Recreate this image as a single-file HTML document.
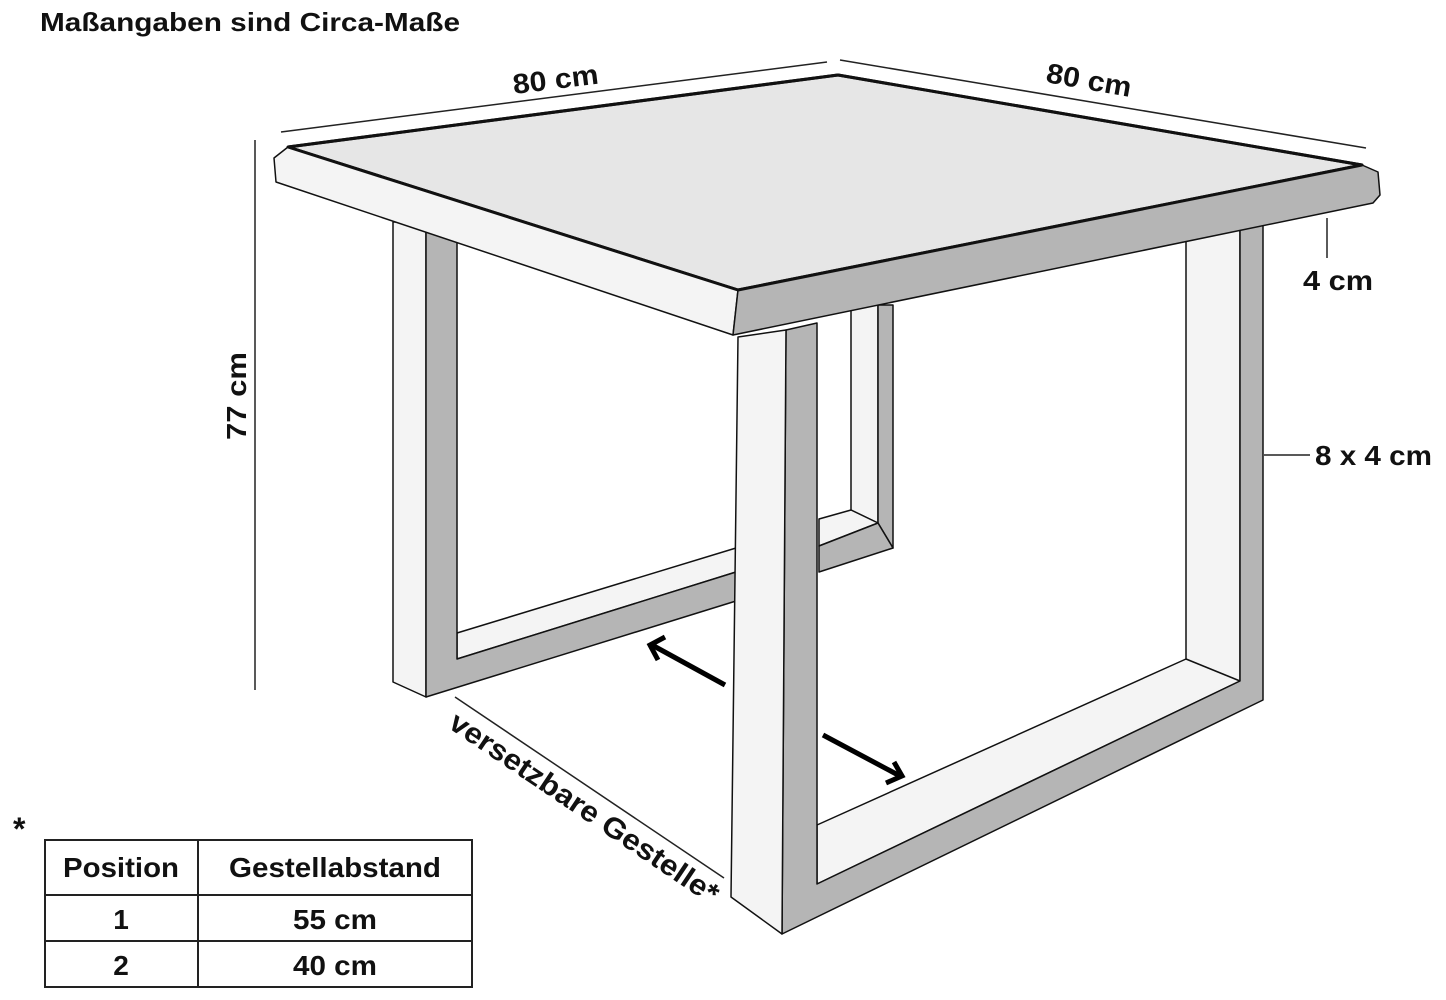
<!DOCTYPE html>
<html><head><meta charset="utf-8"><style>
html,body{margin:0;padding:0;background:#fff;}
svg{display:block;}
text{font-family:"Liberation Sans",sans-serif;font-weight:bold;fill:#111;}
</style></head><body>
<svg width="1446" height="1000" viewBox="0 0 1446 1000" xmlns="http://www.w3.org/2000/svg">
<rect width="1446" height="1000" fill="#fff"/>
<text x="40" y="31" font-size="26" textLength="420" lengthAdjust="spacingAndGlyphs">Maßangaben sind Circa-Maße</text>

<g stroke="#111" stroke-width="1.5" stroke-linejoin="round">
<polygon points="851,305 878,305 878,523 851,510" fill="#f4f4f4"/>
<polygon points="878,305 893,305 893,548 878,523" fill="#b5b5b5"/>
<polygon points="819,519 851,510 878,523 819,546" fill="#f4f4f4"/>
<polygon points="819,546 878,523 893,548 819,572" fill="#b5b5b5"/>
<polygon points="393,222 426,222 426,697 393,682" fill="#f4f4f4"/>
<polygon points="457,633 736,548 736,572 457,659" fill="#f4f4f4"/>
<polygon points="426,222 457,222 457,659 736,572 736,601 426,697" fill="#b5b5b5"/>

<polygon points="1186,225 1240,225 1240,681 817,884 817,825 1186,659" fill="#f4f4f4"/>
<polygon points="786,330 817,323 817,884 1240,681 1240,225 1263,225 1263,700 782,934" fill="#b5b5b5"/>
<polygon points="738,337 786,330 782,934 731,897" fill="#f4f4f4"/>
<line x1="1186" y1="659" x2="1240" y2="681"/>

<polygon points="288,147 838,75 1362,165 738,290" fill="#e6e6e6" stroke-width="3"/>
<polygon points="288,147 738,290 733,335 276,182 274,158" fill="#f4f4f4"/>
<polygon points="738,290 1362,165 1378,172 1380,195 1373,203 733,335" fill="#b5b5b5"/>
<polyline points="288,147 838,75 1362,165 738,290 288,147" fill="none" stroke-width="3"/>
</g>

<g stroke="#222" stroke-width="1.5">
<line x1="281" y1="132" x2="827" y2="62"/>
<line x1="840" y1="60" x2="1366" y2="148"/>
<line x1="1327" y1="218" x2="1327" y2="258"/>
<line x1="1264" y1="455" x2="1310" y2="455"/>
<line x1="255" y1="140" x2="255" y2="690"/>
<line x1="455" y1="697" x2="724" y2="878"/>
</g>
<g stroke="#000" stroke-width="5" fill="none" stroke-linecap="butt">
<line x1="725" y1="685" x2="652" y2="645"/>
<polyline points="665,637 650,645 658,660"/>
<line x1="823" y1="735" x2="900" y2="776"/>
<polyline points="886,783 902,776 894,762"/>
</g>

<text font-size="28" transform="translate(514,94) rotate(-7)" textLength="86" lengthAdjust="spacingAndGlyphs">80 cm</text>
<text font-size="28" transform="translate(1045,82) rotate(10)" textLength="86" lengthAdjust="spacingAndGlyphs">80 cm</text>
<text font-size="28" x="1303" y="290" textLength="70" lengthAdjust="spacingAndGlyphs">4 cm</text>
<text font-size="28" x="1315" y="465" textLength="117" lengthAdjust="spacingAndGlyphs">8 x 4 cm</text>
<text font-size="28" transform="translate(246,440) rotate(-90)" textLength="88" lengthAdjust="spacingAndGlyphs">77 cm</text>
<text font-size="29" transform="translate(447,727) rotate(34)" textLength="318" lengthAdjust="spacingAndGlyphs">versetzbare Gestelle*</text>

<text font-size="32" x="13" y="840">*</text>
<g stroke="#222" stroke-width="2" fill="none">
<rect x="45" y="840" width="427" height="147"/>
<line x1="198" y1="840" x2="198" y2="987"/>
<line x1="45" y1="895" x2="472" y2="895"/>
<line x1="45" y1="941" x2="472" y2="941"/>
</g>
<text font-size="28" x="121" y="877" text-anchor="middle" textLength="116" lengthAdjust="spacingAndGlyphs">Position</text>
<text font-size="28" x="335" y="877" text-anchor="middle" textLength="212" lengthAdjust="spacingAndGlyphs">Gestellabstand</text>
<text font-size="28" x="121" y="929" text-anchor="middle">1</text>
<text font-size="28" x="335" y="929" text-anchor="middle" textLength="84" lengthAdjust="spacingAndGlyphs">55 cm</text>
<text font-size="28" x="121" y="975" text-anchor="middle">2</text>
<text font-size="28" x="335" y="975" text-anchor="middle" textLength="84" lengthAdjust="spacingAndGlyphs">40 cm</text>
</svg>
</body></html>
